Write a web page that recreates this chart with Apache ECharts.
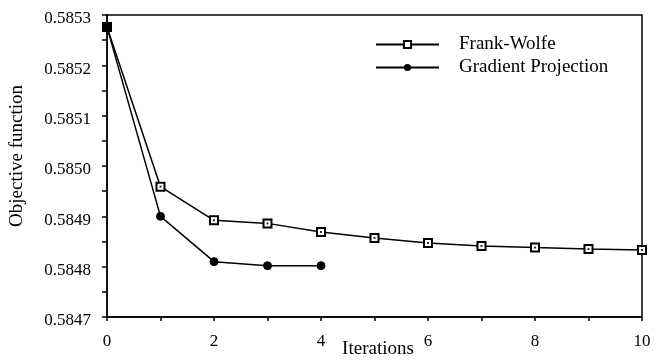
<!DOCTYPE html>
<html lang="en">
<head>
    <meta charset="UTF-8">
    <title>Objective function</title>
    <script src="https://cdn.jsdelivr.net/npm/echarts@6/dist/echarts.min.js"></script>
    <style>
        html, body{
            margin: 0;
            background: #fff;
        }
        #main{
            width: 654px;
            height: 360px;
        }
    </style>
</head>
<body>
<div id="main"></div>
<script>
    var iters = [0, 1, 2, 3, 4, 5, 6, 7, 8, 9, 10];
    var frankWolfe = [0.585276, 0.584959, 0.584892, 0.584886, 0.584869, 0.584857, 0.584847, 0.584841, 0.584838, 0.584835, 0.584833];
    var gradProj = [0.585276, 0.584900, 0.584810, 0.584802, 0.584802];

    var fw = iters.map(function (x, i) { return [x, frankWolfe[i]]; });
    var gp = gradProj.map(function (v, i) { return [iters[i], v]; });

    var serif = 'Liberation Serif';
    var chart = echarts.init(document.getElementById('main'));
    chart.setOption({
        animation: false,
        grid: {
            left: 107, right: 12, top: 15, bottom: 43,
            outerBoundsMode: 'none',
            show: true, borderColor: '#000', borderWidth: 1.5
        },
        legend: {
            data: ['Frank-Wolfe', 'Gradient Projection'],
            orient: 'vertical',
            left: 375, top: 35,
            itemWidth: 63, itemHeight: 9, itemGap: 4, padding: 0,
            textStyle: {fontFamily: serif, fontSize: 19, lineHeight: 19, color: '#000', padding: [0, 0, 0, 15]}
        },
        xAxis: {
            type: 'value', min: 0, max: 10, interval: 1,
            name: 'Iterations', nameLocation: 'middle', nameGap: 23,
            nameMoveOverlap: false,
            nameTextStyle: {fontFamily: serif, fontSize: 19, color: '#000', padding: [0, 0, 0, 7]},
            axisLine: {lineStyle: {color: '#000', width: 1.5}},
            axisTick: {length: 4, lineStyle: {color: '#000', width: 1.5}},
            axisLabel: {
                fontFamily: serif, fontSize: 17, color: '#000', margin: 16,
                formatter: function (v) { return v % 2 === 0 ? String(v) : ''; }
            },
            splitLine: {show: false}
        },
        yAxis: {
            type: 'value', min: 0.5847, max: 0.5853, interval: 0.0001,
            name: 'Objective function', nameLocation: 'middle', nameGap: 80,
            nameMoveOverlap: false,
            nameTextStyle: {fontFamily: serif, fontSize: 19, color: '#000', padding: [0, 0, 0, 20]},
            axisLine: {show: true, lineStyle: {color: '#000', width: 1.5}},
            axisTick: {show: true, length: 5, lineStyle: {color: '#000', width: 1.5}},
            minorTick: {show: true, splitNumber: 2, length: 5, lineStyle: {color: '#000', width: 1.5}},
            axisLabel: {
                fontFamily: serif, fontSize: 17, color: '#000', margin: 16,
                verticalAlign: 'top', lineHeight: 8,
                formatter: function (v) { return v.toFixed(4); }
            },
            splitLine: {show: false}
        },
        series: [{
            name: 'Frank-Wolfe',
            type: 'line',
            data: fw,
            symbol: 'rect',
            symbolSize: 8,
            lineStyle: {color: '#000', width: 1.5},
            itemStyle: {color: '#fff', borderColor: '#000', borderWidth: 2}
        }, {
            name: 'fw-dot',
            type: 'scatter',
            data: fw,
            symbol: 'rect',
            symbolSize: 2,
            itemStyle: {color: '#000'},
            z: 5
        }, {
            name: 'Gradient Projection',
            type: 'line',
            data: gp,
            symbol: 'circle',
            symbolSize: 8,
            lineStyle: {color: '#000', width: 1.5},
            itemStyle: {color: '#000', borderColor: '#000'},
            z: 4
        }]
    });
</script>
</body>
</html>
